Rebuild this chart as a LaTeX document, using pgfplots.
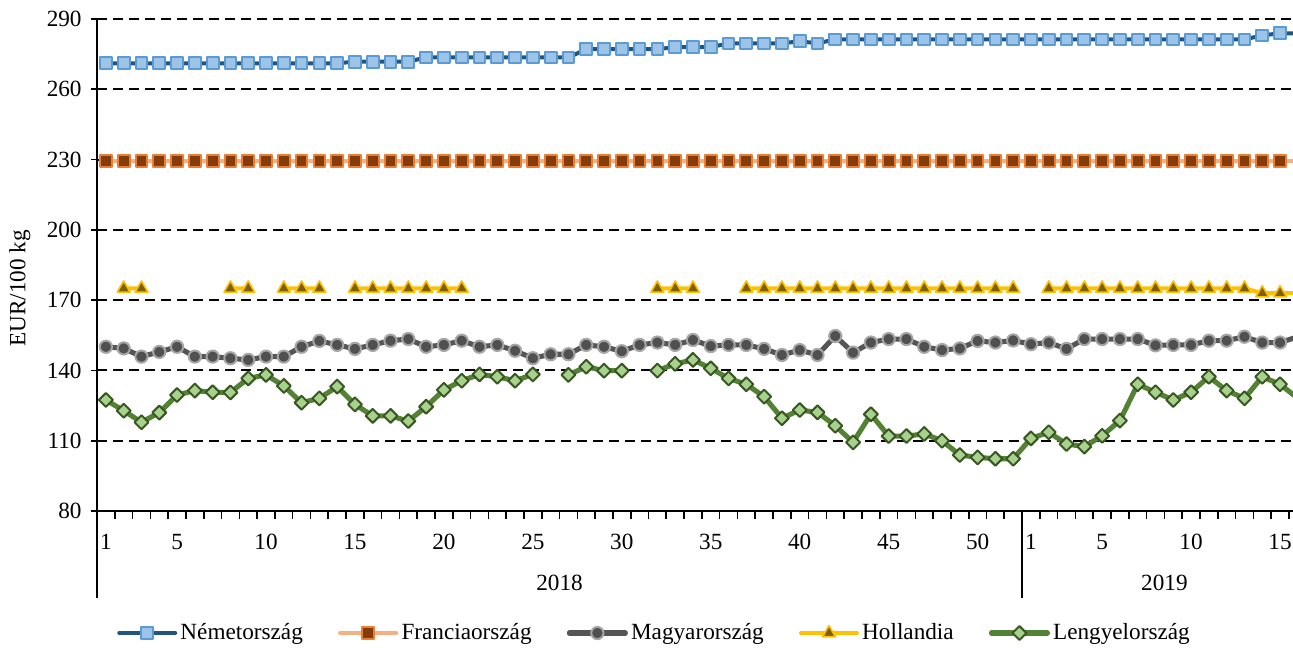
\documentclass[border=0pt]{standalone}
\usepackage{fontspec}
\setmainfont{Liberation Serif}
\usepackage{pgfplots}
\usepackage{pgfplotstable}
\pgfplotsset{compat=1.18}
\definecolor{deline}{HTML}{22557F}
\definecolor{defill}{HTML}{9DC3E6}
\definecolor{dedraw}{HTML}{5B9BD5}
\definecolor{frline}{HTML}{F4B183}
\definecolor{frfill}{HTML}{843C0C}
\definecolor{frdraw}{HTML}{ED7D31}
\definecolor{huline}{HTML}{555555}
\definecolor{hufill}{HTML}{505050}
\definecolor{hudraw}{HTML}{A6A6A6}
\definecolor{nlline}{HTML}{FFC000}
\definecolor{nlfill}{HTML}{7F6000}
\definecolor{plline}{HTML}{548235}
\definecolor{plfill}{HTML}{A9D18E}
\definecolor{pldraw}{HTML}{385723}
\pgfplotstableread{
i de fr hu nl pl
0 271.1 229.3 150.1 nan 127.4
1 271.1 229.3 149.4 175 122.8
2 271.1 229.3 145.9 175 117.9
3 271.1 229.3 147.9 nan 122.0
4 271.1 229.3 150.1 nan 129.5
5 271.1 229.3 145.9 nan 131.4
6 271.1 229.3 145.9 nan 130.7
7 271.1 229.3 145.2 175 130.6
8 271.1 229.3 144.5 175 136.6
9 271.1 229.3 145.9 nan 138.1
10 271.1 229.3 145.9 175 133.4
11 271.1 229.3 150.1 175 126.2
12 271.1 229.3 152.6 175 128.1
13 271.1 229.3 150.9 nan 133.1
14 271.8 229.3 149.2 175 125.5
15 271.8 229.3 150.9 175 120.6
16 271.8 229.3 152.7 175 120.6
17 271.8 229.3 153.4 175 118.4
18 273.6 229.3 150.1 175 124.5
19 273.6 229.3 150.9 175 131.7
20 273.6 229.3 152.7 175 135.6
21 273.6 229.3 150.1 nan 138.3
22 273.6 229.3 150.9 nan 137.3
23 273.6 229.3 148.4 nan 135.6
24 273.6 229.3 145.2 nan 138.3
25 273.6 229.3 146.9 nan nan
26 273.6 229.3 146.9 nan 138.1
27 277.1 229.3 150.9 nan 141.6
28 277.1 229.3 150.1 nan 139.9
29 277.1 229.3 148.2 nan 139.9
30 277.1 229.3 150.9 nan nan
31 277.1 229.3 151.9 175 139.9
32 278.0 229.3 150.9 175 142.8
33 278.0 229.3 153.0 175 144.5
34 278.0 229.3 150.4 nan 140.9
35 279.6 229.3 150.9 nan 136.6
36 279.6 229.3 150.9 175 134.1
37 279.6 229.3 149.2 175 128.8
38 279.6 229.3 146.6 175 119.6
39 280.5 229.3 148.7 175 123.1
40 279.6 229.3 146.6 175 122.1
41 281.3 229.3 154.7 175 116.4
42 281.3 229.3 147.6 175 109.3
43 281.3 229.3 151.9 175 121.3
44 281.3 229.3 153.4 175 112.0
45 281.3 229.3 153.4 175 112.0
46 281.3 229.3 150.1 175 112.9
47 281.3 229.3 148.7 175 110.0
48 281.3 229.3 149.4 175 103.9
49 281.3 229.3 152.6 175 102.9
50 281.3 229.3 151.9 175 102.3
51 281.3 229.3 152.8 175 102.3
52 281.3 229.3 151.2 nan 111.0
53 281.3 229.3 151.9 175 113.6
54 281.3 229.3 149.2 175 108.6
55 281.3 229.3 153.4 175 107.5
56 281.3 229.3 153.4 175 112.1
57 281.3 229.3 153.4 175 118.6
58 281.3 229.3 153.4 175 134.1
59 281.3 229.3 150.7 175 130.7
60 281.3 229.3 150.9 175 127.4
61 281.3 229.3 150.9 175 130.7
62 281.3 229.3 152.7 175 137.3
63 281.3 229.3 152.7 175 131.4
64 281.3 229.3 154.4 175 128.1
65 283.0 229.3 151.9 173 137.3
66 283.9 229.3 151.9 173 134.1
67 283.9 229.3 154.4 173 128.1
}\datatable
\begin{document}
\begin{tikzpicture}[font=\fontsize{8.7}{10.4}\selectfont]
\begin{axis}[
  scale only axis, width=448.5pt, height=184.5pt,
  xmin=-0.5, xmax=66.73, ymin=80, ymax=290,
  axis x line*=bottom, axis y line*=left,
  axis line style={black, line width=0.75pt},
  ytick={80,110,...,290},
  ymajorgrids,
  grid style={black, line width=0.75pt, dash pattern=on 3.75pt off 2.25pt},
  xtick={0,4,9,14,19,24,29,34,39,44,49,52,56,61,66},
  xticklabels={1,5,10,15,20,25,30,35,40,45,50,1,5,10,15},
  minor xtick={-0.5,0.5,...,66.5},
  tick align=outside,
  major tick length=2.25pt, minor tick length=3pt,
  major x tick style={draw=none},
  every tick/.style={black, line width=0.6pt},
  /pgf/number format/assume math mode=true,
  xticklabel style={yshift=-3pt},
  clip marker paths=true,
  unbounded coords=jump,
  ylabel={EUR/100 kg},
  ylabel style={at={(axis description cs:-0.0645,0.453)}, anchor=center},
  legend columns=5,
  legend style={at={(axis description cs:0.0165,-0.248)}, anchor=west, draw=none, fill=none, inner sep=0pt,
    nodes={inner sep=1.2pt},
    /tikz/every even column/.append style={column sep=12pt}},
  legend cell align=left,
  legend image code/.code={\draw[mark repeat=2,mark phase=2,line cap=round] plot coordinates {(0pt,0pt) (10.5pt,0pt) (21pt,0pt)};},
]
\addplot[deline, line width=1.5pt, line join=round, mark=square*, mark size=2.2pt,
  mark options={fill=defill, draw=dedraw, line width=0.75pt}] table[x=i,y=de] {\datatable};
\addlegendentry{Németország}
\addplot[frline, line width=1.6pt, line join=round, mark=square*, mark size=2.2pt,
  mark options={fill=frfill, draw=frdraw, line width=0.75pt}] table[x=i,y=fr] {\datatable};
\addlegendentry{Franciaország}
\addplot[huline, line width=1.9pt, line join=round, mark=*, mark size=2.3pt,
  mark options={fill=hufill, draw=hudraw, line width=0.75pt}] table[x=i,y=hu] {\datatable};
\addlegendentry{Magyarország}
\addplot[nlline, line width=1.5pt, line join=round, mark=triangle*, mark size=2.8pt,
  mark options={fill=nlfill, draw=nlline, line width=0.6pt}] table[x=i,y=nl] {\datatable};
\addlegendentry{Hollandia}
\addplot[plline, line width=1.9pt, line join=round, mark=square*, mark size=1.85pt,
  mark options={rotate=45, fill=plfill, draw=pldraw, line width=0.75pt}] table[x=i,y=pl] {\datatable};
\addlegendentry{Lengyelország}
\coordinate (s0) at (axis cs:-0.5,80);
\coordinate (s1) at (axis cs:51.5,80);
\coordinate (y18) at (axis cs:25.5,80);
\coordinate (y19) at (axis cs:59.5,80);
\end{axis}
\draw[black, line width=0.75pt] (s0) -- ++(0,-32.6pt);
\draw[black, line width=0.75pt] (s1) -- ++(0,-32.6pt);
\node[anchor=center, yshift=-27pt] at (y18) {2018};
\node[anchor=center, yshift=-27pt] at (y19) {2019};
\pgfresetboundingbox
\path ([xshift=-36.375pt,yshift=-51pt]current axis.south west) rectangle ([yshift=7.125pt]current axis.north east);
\end{tikzpicture}
\end{document}
